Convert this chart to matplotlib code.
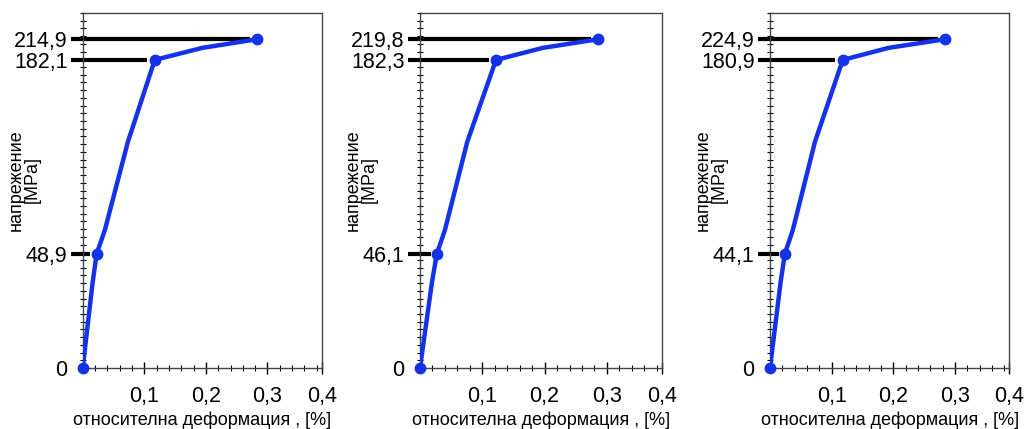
import numpy as np
import matplotlib
matplotlib.use('Agg')
import matplotlib.pyplot as plt
from matplotlib.ticker import MultipleLocator

plt.rcParams['font.family'] = ['Liberation Sans', 'DejaVu Sans']

# данни (отчетени от графиката)
strain_1 = [0.0, 0.016, 0.0226, 0.036, 0.0735, 0.117, 0.194, 0.283]
stress_1 = [0.0, 55.0, 73.9, 89.4, 146.7, 199.6, 207.4, 213.0]
strain_2 = [0.0, 0.019, 0.027, 0.040, 0.076, 0.122, 0.197, 0.286]
stress_2 = [0.0, 55.0, 73.9, 89.4, 146.7, 199.6, 207.4, 213.0]
strain_3 = [0.0, 0.017, 0.024, 0.037, 0.073, 0.118, 0.192, 0.284]
stress_3 = [0.0, 55.0, 73.9, 89.4, 146.7, 199.6, 207.4, 213.0]

# индекси на маркираните точки и надписите към тях
marked = [0, 2, 5, 7]
labels_1 = ['0', '48,9', '182,1', '214,9']
labels_2 = ['0', '46,1', '182,3', '219,8']
labels_3 = ['0', '44,1', '180,9', '224,9']

x_ticklabels = ['0,1', '0,2', '0,3', '0,4']

panels = [(strain_1, stress_1, labels_1),
          (strain_2, stress_2, labels_2),
          (strain_3, stress_3, labels_3)]

W, H = 1025, 429
fig = plt.figure(figsize=(W / 100, H / 100), dpi=100)
boxes = [(82.7, 239.0), (420.0, 241.7), (770.0, 239.3)]

blue = '#1432e6'
xmax = 0.388
ymax = 230

for (x, y, labs), (left, width) in zip(panels, boxes):
    ax = fig.add_axes([left / W, 61 / H, width / W, 355 / H])
    x = np.array(x)
    y = np.array(y)
    xm = x[marked]
    ym = y[marked]

    # черни хоризонтални линии до точките
    for xi, yi in zip(xm[2:], ym[2:]):
        ax.plot([0, xi - 0.012], [yi, yi], color='black', lw=3, solid_capstyle='butt', zorder=2)
    ax.plot([0, xm[1] - 0.01], [ym[1], ym[1]], color='black', lw=3, solid_capstyle='butt', zorder=2)

    ax.plot(x, y, color=blue, lw=3.2, zorder=3, solid_joinstyle='round')
    ax.plot(xm, ym, 'o', color=blue, ms=7.5, zorder=4, clip_on=False)

    ax.set_xlim(0, xmax)
    ax.set_ylim(0, ymax)

    ax.set_xticks([0.1, 0.2, 0.3, xmax])
    ax.set_xticklabels(x_ticklabels, fontsize=15.5)
    ax.xaxis.set_minor_locator(MultipleLocator(0.02))
    ax.tick_params(axis='x', which='major', direction='inout', length=8, width=1, pad=9)
    ax.tick_params(axis='x', which='minor', direction='inout', length=4, width=0.8)

    ax.set_yticks(ym)
    ax.set_yticklabels(labs, fontsize=15.5)
    ax.yaxis.set_minor_locator(MultipleLocator(5))
    ax.tick_params(axis='y', which='major', direction='out', length=9, width=3, pad=2)
    ax.tick_params(axis='y', which='minor', direction='inout', length=5, width=0.8)
    ax.yaxis.get_major_ticks()[0].tick1line.set_visible(False)

    for s in ax.spines.values():
        s.set_color('#444444')
        s.set_linewidth(1)

    ax.set_xlabel('относителна деформация , [%]', fontsize=13, labelpad=3)
    ax.set_ylabel('напрежение\n[MPa]', fontsize=13, linespacing=0.95)
    ax.yaxis.set_label_coords(-0.175, 0.53)

fig.savefig('out.png', dpi=100)
